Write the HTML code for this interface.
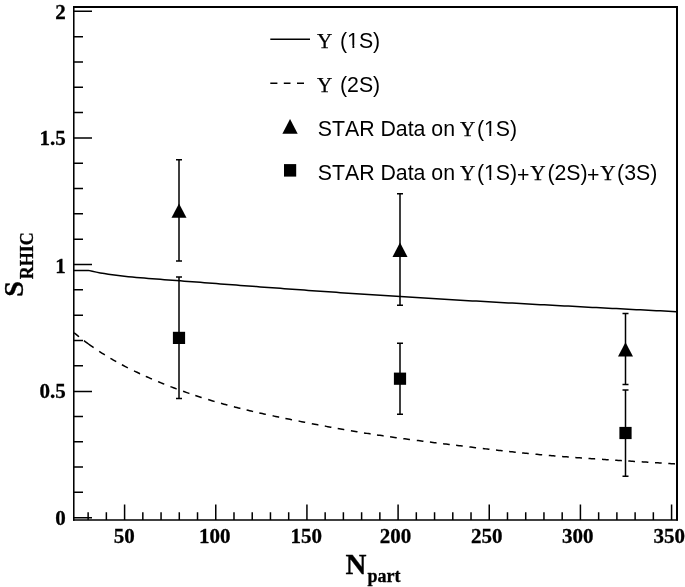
<!DOCTYPE html>
<html><head><meta charset="utf-8"><style>
html,body{margin:0;padding:0;background:#fff;width:685px;height:587px;overflow:hidden}
svg{display:block;will-change:transform}
text{fill:#000;font-kerning:none;font-feature-settings:"kern" 0,"liga" 0}
</style></head><body>
<svg width="685" height="587" viewBox="0 0 685 587">
<rect width="685" height="587" fill="#fff"/>
<path d="M73 7H678M677 6V520.6" fill="none" stroke="#000" stroke-width="2"/>
<path d="M73.78 6V520.75" fill="none" stroke="#000" stroke-width="1.55"/>
<path d="M73 520H678" fill="none" stroke="#000" stroke-width="1.5"/>
<path d="M74 517.65h18M74 492.33h9M74 467.02h9M74 441.70h9M74 416.39h9M74 391.45h18M74 365.76h9M74 340.44h9M74 315.13h9M74 289.81h9M74 264.50h18M74 239.18h9M74 213.87h9M74 188.55h9M74 163.24h9M74 137.92h18M74 112.61h9M74 87.29h9M74 61.98h9M74 36.66h9M74 11.35h18M88.13 520v-7.8M106.36 520v-7.8M124.59 520v-15.5M142.83 520v-7.8M161.06 520v-7.8M179.29 520v-7.8M197.53 520v-7.8M215.76 520v-15.5M233.99 520v-7.8M252.23 520v-7.8M270.46 520v-7.8M288.69 520v-7.8M306.93 520v-15.5M325.16 520v-7.8M343.39 520v-7.8M361.62 520v-7.8M379.86 520v-7.8M398.09 520v-15.5M416.32 520v-7.8M434.56 520v-7.8M452.79 520v-7.8M471.02 520v-7.8M489.25 520v-15.5M507.49 520v-7.8M525.72 520v-7.8M543.95 520v-7.8M562.19 520v-7.8M580.42 520v-15.5M598.65 520v-7.8M616.89 520v-7.8M635.12 520v-7.8M653.35 520v-7.8M671.58 520v-15.5" stroke="#000" stroke-width="1.5" fill="none"/>
<polyline points="74.00,270.39 88.30,270.39 92.30,271.30 96.30,272.13 100.30,272.89 104.30,273.58 108.30,274.21 112.30,274.79 116.30,275.32 120.30,275.80 124.30,276.25 128.30,276.66 132.30,277.05 136.30,277.41 140.30,277.75 144.30,278.07 148.30,278.39 152.30,278.71 156.30,279.02 160.30,279.33 164.30,279.64 168.30,279.94 172.30,280.25 176.30,280.55 180.30,280.86 184.30,281.16 188.30,281.46 192.30,281.77 196.30,282.07 200.30,282.37 204.30,282.67 208.30,282.98 212.30,283.28 216.30,283.58 220.30,283.89 224.30,284.19 228.30,284.49 232.30,284.79 236.30,285.09 240.30,285.39 244.30,285.69 248.30,285.99 252.30,286.29 256.30,286.59 260.30,286.89 264.30,287.18 268.30,287.48 272.30,287.78 276.30,288.07 280.30,288.37 284.30,288.66 288.30,288.95 292.30,289.24 296.30,289.53 300.30,289.82 304.30,290.11 308.30,290.39 312.30,290.68 316.30,290.96 320.30,291.25 324.30,291.53 328.30,291.81 332.30,292.09 336.30,292.36 340.30,292.64 344.30,292.91 348.30,293.18 352.30,293.45 356.30,293.72 360.30,293.99 364.30,294.26 368.30,294.52 372.30,294.78 376.30,295.04 380.30,295.30 384.30,295.56 388.30,295.82 392.30,296.07 396.30,296.32 400.30,296.57 404.30,296.83 408.30,297.07 412.30,297.32 416.30,297.57 420.30,297.81 424.30,298.06 428.30,298.30 432.30,298.54 436.30,298.78 440.30,299.02 444.30,299.25 448.30,299.49 452.30,299.73 456.30,299.96 460.30,300.19 464.30,300.42 468.30,300.65 472.30,300.88 476.30,301.11 480.30,301.34 484.30,301.57 488.30,301.79 492.30,302.01 496.30,302.24 500.30,302.46 504.30,302.68 508.30,302.90 512.30,303.12 516.30,303.34 520.30,303.56 524.30,303.78 528.30,303.99 532.30,304.21 536.30,304.43 540.30,304.64 544.30,304.85 548.30,305.07 552.30,305.28 556.30,305.49 560.30,305.70 564.30,305.91 568.30,306.12 572.30,306.33 576.30,306.54 580.30,306.75 584.30,306.96 588.30,307.17 592.30,307.38 596.30,307.58 600.30,307.79 604.30,308.00 608.30,308.20 612.30,308.41 616.30,308.61 620.30,308.82 624.30,309.02 628.30,309.23 632.30,309.43 636.30,309.63 640.30,309.84 644.30,310.04 648.30,310.25 652.30,310.45 656.30,310.65 660.30,310.86 664.30,311.06 668.30,311.26 672.30,311.47 676.30,311.67 677.00,311.71" fill="none" stroke="#000" stroke-width="1.5" stroke-linejoin="round"/>
<path d="M74.00 332.71 L75.50 333.95 L77.00 335.18 L78.50 336.38 L79.00 336.78M84.00 340.66 L85.50 341.79 L87.00 342.90 L88.50 343.99 L90.00 345.07 L91.50 346.13 L93.00 347.18 L93.60 347.59M99.20 351.35 L100.70 352.33 L102.20 353.29 L103.70 354.23 L104.85 354.95M110.40 358.30 L111.90 359.18 L113.40 360.04 L114.90 360.89 L116.21 361.63M121.90 364.73 L123.40 365.53 L124.90 366.31 L126.40 367.08 L127.85 367.82M134.00 370.87 L135.50 371.59 L137.00 372.30 L138.50 373.01 L140.00 373.71 L140.06 373.73M145.80 376.35 L147.30 377.02 L148.80 377.68 L150.30 378.33 L151.80 378.98 L151.93 379.04M158.10 381.65 L159.60 382.27 L161.10 382.89 L162.60 383.50 L164.10 384.10 L164.30 384.19M170.40 386.58 L171.90 387.16 L173.40 387.73 L174.90 388.30 L176.40 388.86 L176.67 388.95M183.10 391.30 L184.60 391.83 L186.10 392.36 L187.60 392.88 L189.10 393.40 L189.42 393.51M195.30 395.49 L196.80 395.98 L198.30 396.47 L199.80 396.96 L201.30 397.44 L201.67 397.55M208.20 399.58 L209.70 400.04 L211.20 400.49 L212.70 400.93 L214.20 401.38 L214.62 401.50M221.00 403.33 L222.50 403.74 L224.00 404.16 L225.50 404.57 L227.00 404.98 L227.46 405.10M233.90 406.80 L235.40 407.19 L236.90 407.57 L238.40 407.95 L239.90 408.32 L240.39 408.45M246.60 409.96 L248.10 410.32 L249.60 410.68 L251.10 411.03 L252.60 411.38 L253.12 411.50M259.30 412.91 L260.80 413.25 L262.30 413.58 L263.80 413.91 L265.30 414.24 L265.84 414.36M272.60 415.81 L274.10 416.13 L275.60 416.44 L277.10 416.76 L278.60 417.07 L279.16 417.18M285.40 418.46 L286.90 418.76 L288.40 419.06 L289.90 419.36 L291.40 419.66 L291.97 419.78M298.60 421.08 L300.10 421.38 L301.60 421.67 L303.10 421.96 L304.60 422.25 L305.18 422.36M311.80 423.64 L313.30 423.93 L314.80 424.22 L316.30 424.50 L317.80 424.79 L318.38 424.90M324.80 426.10 L326.30 426.38 L327.80 426.66 L329.30 426.94 L330.80 427.21 L331.39 427.32M337.70 428.46 L339.20 428.73 L340.70 428.99 L342.20 429.26 L343.70 429.52 L344.30 429.62M350.90 430.75 L352.40 431.01 L353.90 431.26 L355.40 431.51 L356.90 431.75 L357.51 431.85M364.00 432.90 L365.50 433.14 L367.00 433.38 L368.50 433.61 L370.00 433.84 L370.62 433.94M377.00 434.91 L378.50 435.14 L380.00 435.36 L381.50 435.58 L383.00 435.80 L383.63 435.89M390.10 436.82 L391.60 437.03 L393.10 437.24 L394.60 437.45 L396.10 437.66 L396.74 437.75M403.30 438.64 L404.80 438.84 L406.30 439.04 L407.80 439.24 L409.30 439.44 L409.94 439.52M416.80 440.42 L418.30 440.61 L419.80 440.80 L421.30 440.99 L422.80 441.18 L423.45 441.27M429.90 442.08 L431.40 442.27 L432.90 442.45 L434.40 442.64 L435.90 442.83 L436.55 442.91M443.10 443.71 L444.60 443.90 L446.10 444.08 L447.60 444.27 L449.10 444.45 L449.75 444.53M456.10 445.30 L457.60 445.49 L459.10 445.67 L460.60 445.85 L462.10 446.03 L462.75 446.11M469.40 446.92 L470.90 447.10 L472.40 447.28 L473.90 447.46 L475.40 447.64 L476.05 447.72M482.80 448.53 L484.30 448.70 L485.80 448.88 L487.30 449.06 L488.80 449.23 L489.45 449.31M496.00 450.07 L497.50 450.24 L499.00 450.41 L500.50 450.58 L502.00 450.75 L502.66 450.82M509.10 451.53 L510.60 451.69 L512.10 451.86 L513.60 452.02 L515.10 452.18 L515.76 452.25M522.10 452.90 L523.60 453.06 L525.10 453.21 L526.60 453.36 L528.10 453.51 L528.77 453.57M535.50 454.22 L537.00 454.36 L538.50 454.49 L540.00 454.63 L541.50 454.77 L542.17 454.83M548.80 455.41 L550.30 455.54 L551.80 455.67 L553.30 455.79 L554.80 455.92 L555.48 455.97M562.10 456.51 L563.60 456.63 L565.10 456.74 L566.60 456.86 L568.10 456.98 L568.78 457.03M575.30 457.52 L576.80 457.63 L578.30 457.74 L579.80 457.84 L581.30 457.95 L581.98 458.00M588.50 458.46 L590.00 458.56 L591.50 458.66 L593.00 458.77 L594.50 458.87 L595.18 458.91M602.00 459.36 L603.50 459.46 L605.00 459.56 L606.50 459.66 L608.00 459.75 L608.69 459.80M615.20 460.21 L616.70 460.30 L618.20 460.40 L619.70 460.49 L621.20 460.58 L621.89 460.63M628.30 461.02 L629.80 461.11 L631.30 461.20 L632.80 461.30 L634.30 461.39 L634.99 461.43M641.70 461.84 L643.20 461.93 L644.70 462.02 L646.20 462.11 L647.70 462.20 L648.39 462.24M655.00 462.64 L656.50 462.73 L658.00 462.83 L659.50 462.92 L661.00 463.01 L661.69 463.05M668.30 463.46 L669.80 463.56 L671.30 463.65 L672.80 463.74 L674.30 463.84 L675.00 463.88" fill="none" stroke="#000" stroke-width="1.5"/>
<path d="M179.0 159.7V261.0M176.0 159.7h6M176.0 261.0h6M400.0 193.8V305.3M397.0 193.8h6M397.0 305.3h6M625.5 313.5V384.4M622.5 313.5h6M622.5 384.4h6M179.0 277.1V398.5M176.0 277.1h6M176.0 398.5h6M400.0 343.2V414.2M397.0 343.2h6M397.0 414.2h6M625.5 389.9V476.2M622.5 389.9h6M622.5 476.2h6" stroke="#000" stroke-width="1.5" fill="none"/>
<path d="M171.5 217.85H186.5L179.0 203.54999999999998Z" fill="#000"/>
<path d="M392.5 256.9H407.5L400.0 242.6Z" fill="#000"/>
<path d="M618.0 356.59999999999997H633.0L625.5 342.3Z" fill="#000"/>
<rect x="172.9" y="331.79999999999995" width="12.2" height="12.2" fill="#000"/>
<rect x="393.9" y="372.59999999999997" width="12.2" height="12.2" fill="#000"/>
<rect x="619.4" y="426.9" width="12.2" height="12.2" fill="#000"/>
<text x="65.7" y="524.80" font-family="Liberation Serif" font-weight="bold" stroke="#000" stroke-width="0.3" font-size="21" text-anchor="end">0</text>
<text x="65.7" y="398.30" font-family="Liberation Serif" font-weight="bold" stroke="#000" stroke-width="0.3" font-size="21" text-anchor="end">0.5</text>
<text x="65.7" y="272.70" font-family="Liberation Serif" font-weight="bold" stroke="#000" stroke-width="0.3" font-size="21" text-anchor="end">1</text>
<text x="65.7" y="145.30" font-family="Liberation Serif" font-weight="bold" stroke="#000" stroke-width="0.3" font-size="21" text-anchor="end">1.5</text>
<text x="65.7" y="18.80" font-family="Liberation Serif" font-weight="bold" stroke="#000" stroke-width="0.3" font-size="21" text-anchor="end">2</text>
<text x="124.35" y="543" font-family="Liberation Serif" font-weight="bold" stroke="#000" stroke-width="0.3" font-size="21" text-anchor="middle">50</text>
<text x="214.75" y="543" font-family="Liberation Serif" font-weight="bold" stroke="#000" stroke-width="0.3" font-size="21" text-anchor="middle">100</text>
<text x="306.20" y="543" font-family="Liberation Serif" font-weight="bold" stroke="#000" stroke-width="0.3" font-size="21" text-anchor="middle">150</text>
<text x="395.55" y="543" font-family="Liberation Serif" font-weight="bold" stroke="#000" stroke-width="0.3" font-size="21" text-anchor="middle">200</text>
<text x="486.85" y="543" font-family="Liberation Serif" font-weight="bold" stroke="#000" stroke-width="0.3" font-size="21" text-anchor="middle">250</text>
<text x="577.85" y="543" font-family="Liberation Serif" font-weight="bold" stroke="#000" stroke-width="0.3" font-size="21" text-anchor="middle">300</text>
<text x="669.15" y="543" font-family="Liberation Serif" font-weight="bold" stroke="#000" stroke-width="0.3" font-size="21" text-anchor="middle">350</text>
<text x="345.4" y="574.2" font-family="Liberation Serif" font-weight="bold" stroke="#000" stroke-width="0.3" font-size="29">N</text>
<text x="367.4" y="582.4" font-family="Liberation Serif" font-weight="bold" stroke="#000" stroke-width="0.3" font-size="18">part</text>
<g transform="translate(23.2,296) rotate(-90)"><text x="-0.7" y="0" font-family="Liberation Serif" font-weight="bold" stroke="#000" stroke-width="0.3" font-size="28">S</text><text x="16.7" y="10" font-family="Liberation Serif" font-weight="bold" stroke="#000" stroke-width="0.3" font-size="18">RHIC</text></g>
<path d="M270.3 39.2H310" stroke="#000" stroke-width="1.4"/>
<path d="M270.3 83.3h7.1M283.8 83.3h6.7M297 83.3h7" stroke="#000" stroke-width="1.4"/>
<text x="316.96" y="47.9" font-family="Liberation Serif" stroke="#000" stroke-width="0.25" font-size="21.2">&#933;</text>
<text x="339.98" y="47.9" font-family="Liberation Sans" font-size="21.3">(1S)</text>
<text x="316.96" y="91.9" font-family="Liberation Serif" stroke="#000" stroke-width="0.25" font-size="21.2">&#933;</text>
<text x="339.98" y="91.9" font-family="Liberation Sans" font-size="21.3">(2S)</text>
<path d="M282.4 133.8H297.7L290.05 119.0Z" fill="#000"/>
<rect x="284" y="164.1" width="12.2" height="12.5" fill="#000"/>
<text x="317.73" y="135.8" font-family="Liberation Sans" font-size="21.3">STAR Data on</text>
<text x="459.96" y="135.8" font-family="Liberation Serif" stroke="#000" stroke-width="0.25" font-size="21.2">&#933;</text>
<text x="317.73" y="179.8" font-family="Liberation Sans" font-size="21.3">STAR Data on</text>
<text x="459.96" y="179.8" font-family="Liberation Serif" stroke="#000" stroke-width="0.25" font-size="21.2">&#933;</text>
<text x="476.88" y="135.8" font-family="Liberation Sans" font-size="21.3">(1S)</text>
<text x="476.88" y="179.8" font-family="Liberation Sans" font-size="21.3">(1S)</text>
<text x="517.06" y="181.60000000000002" font-family="Liberation Sans" font-size="21.3">+</text>
<text x="530.26" y="179.8" font-family="Liberation Serif" stroke="#000" stroke-width="0.25" font-size="21.2">&#933;</text>
<text x="547.38" y="179.8" font-family="Liberation Sans" font-size="21.3">(2S)</text>
<text x="586.96" y="181.60000000000002" font-family="Liberation Sans" font-size="21.3">+</text>
<text x="600.26" y="179.8" font-family="Liberation Serif" stroke="#000" stroke-width="0.25" font-size="21.2">&#933;</text>
<text x="617.08" y="179.8" font-family="Liberation Sans" font-size="21.3">(3S)</text>
<path d="M348.01 45.31H352.43V48.70H348.01ZM354.31 45.31H357.99V48.70H354.31Z" fill="#fff"/>
<path d="M484.91 133.21H489.33V136.60H484.91ZM491.21 133.21H494.89V136.60H491.21Z" fill="#fff"/>
<path d="M484.91 177.21H489.33V180.60H484.91ZM491.21 177.21H494.89V180.60H491.21Z" fill="#fff"/>
</svg>
</body></html>
